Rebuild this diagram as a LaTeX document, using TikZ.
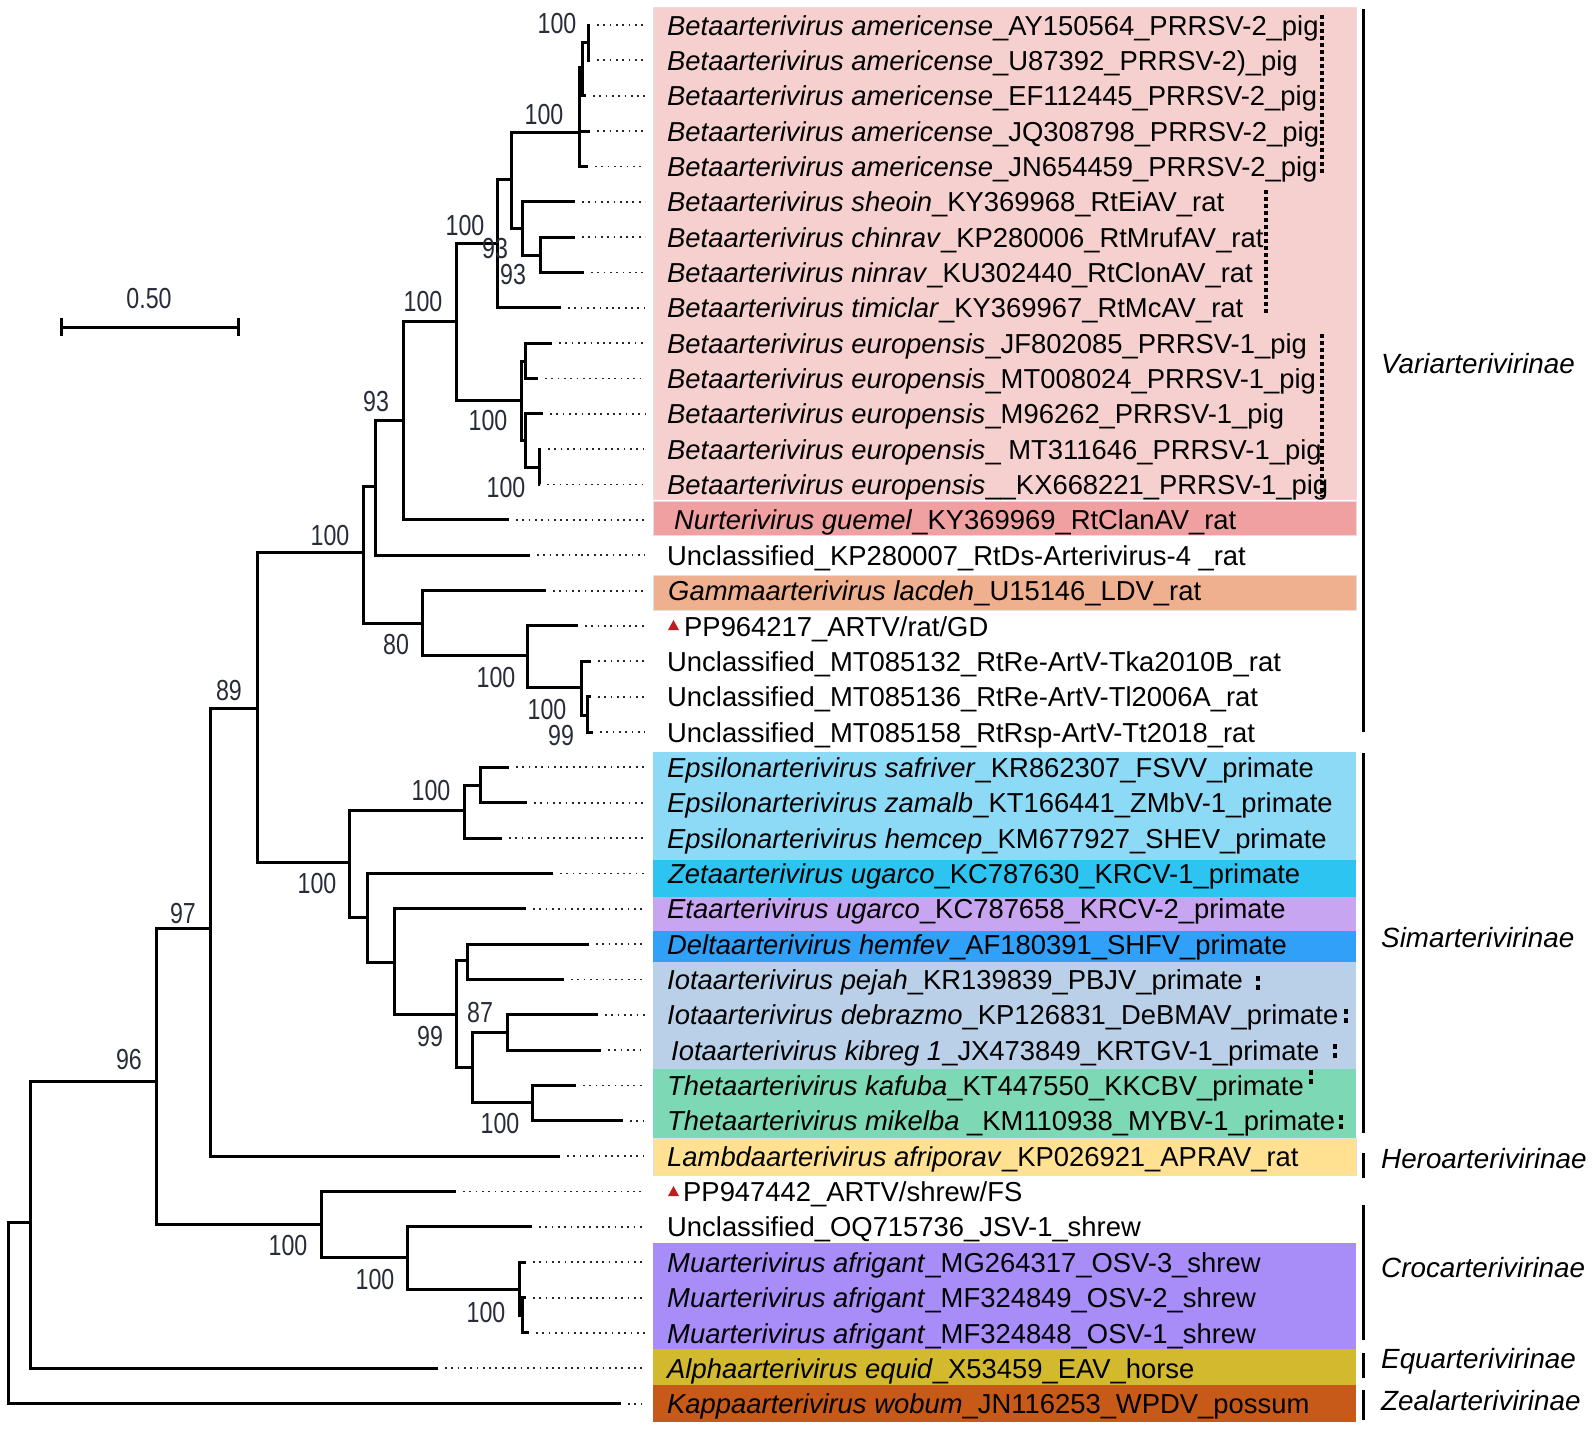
\documentclass[tikz,border=0pt]{standalone}
\usepackage{fontspec}
\setmainfont{Liberation Sans}
\newfontfamily\bsfont[FakeStretch=0.8]{Liberation Sans}
\definecolor{cBeta}{RGB}{245,208,206}
\definecolor{cNurt}{RGB}{240,160,160}
\definecolor{cGamma}{RGB}{239,176,144}
\definecolor{cEps}{RGB}{141,218,246}
\definecolor{cZeta}{RGB}{46,196,242}
\definecolor{cEta}{RGB}{200,165,240}
\definecolor{cDelta}{RGB}{48,160,248}
\definecolor{cIota}{RGB}{185,208,232}
\definecolor{cTheta}{RGB}{125,216,181}
\definecolor{cLambda}{RGB}{255,225,145}
\definecolor{cMu}{RGB}{168,140,248}
\definecolor{cAlpha}{RGB}{210,185,45}
\definecolor{cKappa}{RGB}{200,90,25}
\definecolor{bsgray}{RGB}{40,44,56}
\definecolor{trired}{RGB}{192,30,30}
\begin{document}
\begin{tikzpicture}[x=1pt,y=-1pt,
  tree/.style={line width=3pt,line join=miter,black},
  leader/.style={line width=1.8pt,dash pattern=on 1.8pt off 4.5pt,black!85},
  vdots/.style={line width=3.6pt,dash pattern=on 3.6pt off 3.4pt,black},
  bracket/.style={line width=3pt,black},
  lab/.style={anchor=base west,inner sep=0pt,font=\fontsize{27.4}{32}\selectfont},
  sub/.style={anchor=base west,inner sep=0pt,font=\fontsize{27.8}{32}\selectfont\itshape},
  bs/.style={inner sep=0pt,text=bsgray,font=\bsfont\fontsize{29}{32}\selectfont},
  tri/.style={fill=trired},
  box/.style={draw=black!12,line width=0.8pt}]
\useasboundingbox (0,0) rectangle (1595,1428);

% ---------- coloured boxes ----------
\filldraw[box,fill=cBeta]   (653,7)    rectangle (1356,499);
\filldraw[box,fill=cNurt]   (653,501)  rectangle (1356,535);
\filldraw[box,fill=cGamma]  (653,575)  rectangle (1356,610);
\fill[cEps]    (653,752)  rectangle (1356,860);
\fill[cZeta]   (653,860)  rectangle (1356,897);
\fill[cEta]    (653,897)  rectangle (1356,931);
\fill[cDelta]  (653,931)  rectangle (1356,962);
\fill[cIota]   (653,962)  rectangle (1356,1069);
\fill[cTheta]  (653,1069) rectangle (1356,1138);
\filldraw[box,fill=cLambda] (653,1138) rectangle (1356,1175);
\fill[cMu]     (653,1243) rectangle (1356,1349);
\fill[cAlpha]  (653,1349) rectangle (1356,1385);
\fill[cKappa]  (653,1385) rectangle (1356,1422);

% ---------- leaf tips and leader ends ----------
\foreach \i/\x in {1/590,2/590,3/586,4/590,5/588,6/575,7/575,8/584,9/561,10/552,
  11/538,12/543,13/541,14/540,15/509,16/530,17/546,18/578,19/591,20/591,
  21/593,22/509,23/527,24/502,25/553,26/526,27/589,28/564,29/598,30/601,
  31/576,32/623,33/560,34/456,35/532,36/526,37/526,38/529,39/438,40/621}{
  \coordinate (L\i) at (\x,{25+(\i-1)*35.35});
  \coordinate (E\i) at (645,{25+(\i-1)*35.35});
  \draw[leader] ([xshift=7pt]L\i) -- (E\i);
}

% ---------- internal nodes ----------
\coordinate (a12) at (588,42.7);
\coordinate (a123) at (582,67);
\coordinate (aA) at (579,132);
\coordinate (c78) at (540,255);
\coordinate (c678) at (522,228);
\coordinate (n511) at (511,179);
\coordinate (n497) at (497,243);
\coordinate (e1011) at (525,361);
\coordinate (e1314) at (539,467);
\coordinate (e1214) at (525,440);
\coordinate (eN) at (521,400);
\coordinate (n456) at (456,321);
\coordinate (n403) at (403,420);
\coordinate (n375) at (375,486);
\coordinate (m2021) at (587,715);
\coordinate (m1921) at (581,687);
\coordinate (m18) at (527,655);
\coordinate (n80) at (422,623);
\coordinate (n363) at (363,552);
\coordinate (s2223) at (480,785);
\coordinate (sEps) at (464,810);
\coordinate (d2728) at (467,960);
\coordinate (i2930) at (507,1032);
\coordinate (t3132) at (532,1102);
\coordinate (n87) at (472,1067);
\coordinate (n99) at (456,1014);
\coordinate (n394) at (394,962);
\coordinate (n367) at (367,917);
\coordinate (sN) at (349,862);
\coordinate (n257) at (257,708);
\coordinate (n210) at (210,928);
\coordinate (mu3738) at (522,1315);
\coordinate (mu) at (519,1289);
\coordinate (c35) at (407,1257);
\coordinate (c34) at (321,1224);
\coordinate (n156) at (156,1081);
\coordinate (n30) at (30,1222);
\coordinate (root) at (8.5,1313);

% ---------- branches ----------
\draw[tree] (a12) |- (L1)  (a12) |- (L2);
\draw[tree] (a123) |- (a12) (a123) |- (L3);
\draw[tree] (aA) |- (a123) (aA) |- (L4) (aA) |- (L5);
\draw[tree] (c78) |- (L7) (c78) |- (L8);
\draw[tree] (c678) |- (L6) (c678) |- (c78);
\draw[tree] (n511) |- (aA) (n511) |- (c678);
\draw[tree] (n497) |- (n511) (n497) |- (L9);
\draw[tree] (e1011) |- (L10) (e1011) |- (L11);
\draw[tree] (e1314) |- (L13) (e1314) |- (L14);
\draw[tree] (e1214) |- (L12) (e1214) |- (e1314);
\draw[tree] (eN) |- (e1011) (eN) |- (e1214);
\draw[tree] (n456) |- (n497) (n456) |- (eN);
\draw[tree] (n403) |- (n456) (n403) |- (L15);
\draw[tree] (n375) |- (n403) (n375) |- (L16);
\draw[tree] (m2021) |- (L20) (m2021) |- (L21);
\draw[tree] (m1921) |- (L19) (m1921) |- (m2021);
\draw[tree] (m18) |- (L18) (m18) |- (m1921);
\draw[tree] (n80) |- (L17) (n80) |- (m18);
\draw[tree] (n363) |- (n375) (n363) |- (n80);
\draw[tree] (s2223) |- (L22) (s2223) |- (L23);
\draw[tree] (sEps) |- (s2223) (sEps) |- (L24);
\draw[tree] (d2728) |- (L27) (d2728) |- (L28);
\draw[tree] (i2930) |- (L29) (i2930) |- (L30);
\draw[tree] (t3132) |- (L31) (t3132) |- (L32);
\draw[tree] (n87) |- (i2930) (n87) |- (t3132);
\draw[tree] (n99) |- (d2728) (n99) |- (n87);
\draw[tree] (n394) |- (L26) (n394) |- (n99);
\draw[tree] (n367) |- (L25) (n367) |- (n394);
\draw[tree] (sN) |- (sEps) (sN) |- (n367);
\draw[tree] (n257) |- (n363) (n257) |- (sN);
\draw[tree] (n210) |- (n257) (n210) |- (L33);
\draw[tree] (mu3738) |- (L37) (mu3738) |- (L38);
\draw[tree] (mu) |- (L36) (mu) |- (mu3738);
\draw[tree] (c35) |- (L35) (c35) |- (mu);
\draw[tree] (c34) |- (L34) (c34) |- (c35);
\draw[tree] (n156) |- (n210) (n156) |- (c34);
\draw[tree] (n30) |- (n156) (n30) |- (L39);
\draw[tree] (root) |- (n30) (root) |- (L40);

% ---------- bootstrap values ----------
\node[bs] (b1) at (557,24) {100};
\node[bs] (b2) at (544,115) {100};
\node[bs] (b3) at (465,226) {100};
\node[bs] (b4) at (495,249) {93};
\node[bs] (b5) at (513,275) {93};
\node[bs] (b6) at (423,302) {100};
\node[bs] (b7) at (376,402) {93};
\node[bs] (b8) at (488,421) {100};
\node[bs] (b9) at (506,488) {100};
\node[bs] (b10) at (330,536) {100};
\node[bs] (b11) at (396,645) {80};
\node[bs] (b12) at (496,678) {100};
\node[bs] (b13) at (547,710) {100};
\node[bs] (b14) at (561,736) {99};
\node[bs] (b15) at (229,691) {89};
\node[bs] (b16) at (431,791) {100};
\node[bs] (b17) at (317,884) {100};
\node[bs] (b18) at (480,1012) {87};
\node[bs] (b19) at (430,1036) {99};
\node[bs] (b20) at (500,1123) {100};
\node[bs] (b21) at (183,913) {97};
\node[bs] (b22) at (129,1059) {96};
\node[bs] (b23) at (288,1245) {100};
\node[bs] (b24) at (375,1279) {100};
\node[bs] (b25) at (486,1312) {100};

% ---------- scale bar ----------
\coordinate (sb1) at (61,327);
\coordinate (sb2) at (238,327);
\draw[tree] (sb1) -- (sb2);
\draw[tree] ([yshift=9pt]sb1) -- ([yshift=-9pt]sb1);
\draw[tree] ([yshift=9pt]sb2) -- ([yshift=-9pt]sb2);
\node[bs] (sbl) at (149,299) {0.50};

% ---------- leaf labels ----------
\node[lab] (t1) at (667,35) {\textit{Betaarterivirus americense}\_AY150564\_PRRSV-2\_pig};
\node[lab] (t2) at (667,70.4) {\textit{Betaarterivirus americense}\_U87392\_PRRSV-2)\_pig};
\node[lab] (t3) at (667,105.7) {\textit{Betaarterivirus americense}\_EF112445\_PRRSV-2\_pig};
\node[lab] (t4) at (667,141.1) {\textit{Betaarterivirus americense}\_JQ308798\_PRRSV-2\_pig};
\node[lab] (t5) at (667,176.4) {\textit{Betaarterivirus americense}\_JN654459\_PRRSV-2\_pig};
\node[lab] (t6) at (667,211.8) {\textit{Betaarterivirus sheoin}\_KY369968\_RtEiAV\_rat};
\node[lab] (t7) at (667,247.1) {\textit{Betaarterivirus chinrav}\_KP280006\_RtMrufAV\_rat};
\node[lab] (t8) at (667,282.5) {\textit{Betaarterivirus ninrav}\_KU302440\_RtClonAV\_rat};
\node[lab] (t9) at (667,317.8) {\textit{Betaarterivirus timiclar}\_KY369967\_RtMcAV\_rat};
\node[lab] (t10) at (667,353.2) {\textit{Betaarterivirus europensis}\_JF802085\_PRRSV-1\_pig};
\node[lab] (t11) at (667,388.5) {\textit{Betaarterivirus europensis}\_MT008024\_PRRSV-1\_pig};
\node[lab] (t12) at (667,423.9) {\textit{Betaarterivirus europensis}\_M96262\_PRRSV-1\_pig};
\node[lab] (t13) at (667,459.2) {\textit{Betaarterivirus europensis}\_ MT311646\_PRRSV-1\_pig};
\node[lab] (t14) at (667,494.6) {\textit{Betaarterivirus europensis}\_\_KX668221\_PRRSV-1\_pig};
\node[lab] (t15) at (674,529.9) {\textit{Nurterivirus guemel}\_KY369969\_RtClanAV\_rat};
\node[lab] (t16) at (667,565.3) {Unclassified\_KP280007\_RtDs-Arterivirus-4 \_rat};
\node[lab] (t17) at (668,600.6) {\textit{Gammaarterivirus lacdeh}\_U15146\_LDV\_rat};
\node[lab] (t18) at (684,636) {PP964217\_ARTV/rat/GD};
\node[lab] (t19) at (667,671.3) {Unclassified\_MT085132\_RtRe-ArtV-Tka2010B\_rat};
\node[lab] (t20) at (667,706.7) {Unclassified\_MT085136\_RtRe-ArtV-Tl2006A\_rat};
\node[lab] (t21) at (667,742) {Unclassified\_MT085158\_RtRsp-ArtV-Tt2018\_rat};
\node[lab] (t22) at (667,777.4) {\textit{Epsilonarterivirus safriver}\_KR862307\_FSVV\_primate};
\node[lab] (t23) at (667,812.7) {\textit{Epsilonarterivirus zamalb}\_KT166441\_ZMbV-1\_primate};
\node[lab] (t24) at (667,848.1) {\textit{Epsilonarterivirus hemcep}\_KM677927\_SHEV\_primate};
\node[lab] (t25) at (668,883.4) {\textit{Zetaarterivirus ugarco}\_KC787630\_KRCV-1\_primate};
\node[lab] (t26) at (667,918.8) {\textit{Etaarterivirus ugarco}\_KC787658\_KRCV-2\_primate};
\node[lab] (t27) at (667,954.1) {\textit{Deltaarterivirus hemfev}\_AF180391\_SHFV\_primate};
\node[lab] (t28) at (667,989.5) {\textit{Iotaarterivirus pejah}\_KR139839\_PBJV\_primate};
\node[lab] (t29) at (667,1024.8) {\textit{Iotaarterivirus debrazmo}\_KP126831\_DeBMAV\_primate};
\node[lab] (t30) at (671,1060.2) {\textit{Iotaarterivirus kibreg 1}\_JX473849\_KRTGV-1\_primate};
\node[lab] (t31) at (667,1095.5) {\textit{Thetaarterivirus kafuba}\_KT447550\_KKCBV\_primate};
\node[lab] (t32) at (667,1130.9) {\textit{Thetaarterivirus mikelba} \_KM110938\_MYBV-1\_primate};
\node[lab] (t33) at (667,1166.2) {\textit{Lambdaarterivirus afriporav}\_KP026921\_APRAV\_rat};
\node[lab] (t34) at (683,1201.6) {PP947442\_ARTV/shrew/FS};
\node[lab] (t35) at (667,1236.9) {Unclassified\_OQ715736\_JSV-1\_shrew};
\node[lab] (t36) at (667,1272.3) {\textit{Muarterivirus afrigant}\_MG264317\_OSV-3\_shrew};
\node[lab] (t37) at (667,1307.6) {\textit{Muarterivirus afrigant}\_MF324849\_OSV-2\_shrew};
\node[lab] (t38) at (667,1343) {\textit{Muarterivirus afrigant}\_MF324848\_OSV-1\_shrew};
\node[lab] (t39) at (667,1378.3) {\textit{Alphaarterivirus equid}\_X53459\_EAV\_horse};
\node[lab] (t40) at (667,1413.7) {\textit{Kappaarterivirus wobum}\_JN116253\_WPDV\_possum};

% ---------- red triangles ----------
\fill[tri] (668,630) -- (679,630) -- (673.5,620) -- cycle;
\fill[tri] (668,1196) -- (679,1196) -- (673.5,1186) -- cycle;

% ---------- dotted marks ----------
\coordinate (v1a) at (1322,15);  \coordinate (v1b) at (1322,173);
\coordinate (v2a) at (1266,190); \coordinate (v2b) at (1266,313);
\coordinate (v3a) at (1322,334); \coordinate (v3b) at (1322,497);
\draw[vdots] (v1a) -- (v1b);
\draw[vdots] (v2a) -- (v2b);
\draw[vdots] (v3a) -- (v3b);
\foreach \x/\y in {1258/983,1346/1016,1335/1051,1311/1077,1341/1122}{
  \fill (\x-2.3,\y-7) rectangle (\x+2.3,\y-2.4);
  \fill (\x-2.3,\y+2.4) rectangle (\x+2.3,\y+7);
}

% ---------- subfamily brackets ----------
\coordinate (k1a) at (1363,9);    \coordinate (k1b) at (1363,732);
\coordinate (k2a) at (1363,753);  \coordinate (k2b) at (1363,1133);
\coordinate (k3a) at (1363,1153); \coordinate (k3b) at (1363,1178);
\coordinate (k4a) at (1363,1205); \coordinate (k4b) at (1363,1340);
\coordinate (k5a) at (1363,1353); \coordinate (k5b) at (1363,1378);
\coordinate (k6a) at (1363,1390); \coordinate (k6b) at (1363,1420);
\draw[bracket] (k1a) -- (k1b);
\draw[bracket] (k2a) -- (k2b);
\draw[bracket] (k3a) -- (k3b);
\draw[bracket] (k4a) -- (k4b);
\draw[bracket] (k5a) -- (k5b);
\draw[bracket] (k6a) -- (k6b);
\node[sub] (g1) at (1381,373) {Variarterivirinae};
\node[sub] (g2) at (1381,947) {Simarterivirinae};
\node[sub] (g3) at (1381,1168) {Heroarterivirinae};
\node[sub] (g4) at (1381,1277) {Crocarterivirinae};
\node[sub] (g5) at (1381,1368) {Equarterivirinae};
\node[sub] (g6) at (1381,1410) {Zealarterivirinae};
\end{tikzpicture}
\end{document}
